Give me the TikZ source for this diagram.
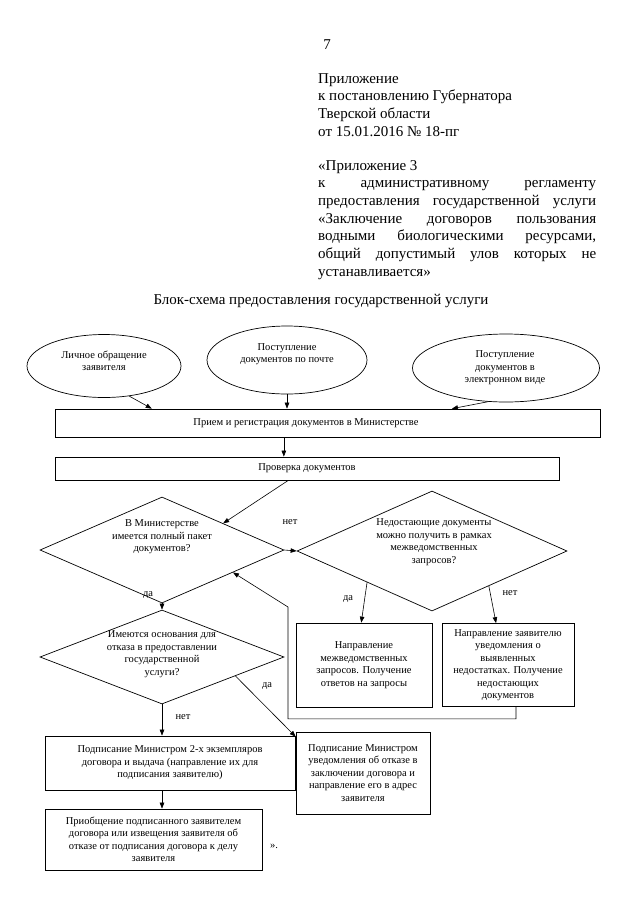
\documentclass[tikz,border=0pt]{standalone}
\usepackage{fontspec}
\setmainfont{Liberation Serif}
\usetikzlibrary{shapes.geometric,arrows.meta,calc}
\newcommand{\shapkafont}{\fontsize{15}{17.7}\selectfont}
\newcommand{\melkfont}{\fontsize{10.5}{12.5}\selectfont}
\tikzset{
  blok/.style={draw,line width=0.7pt,align=center,inner sep=2pt,font=\melkfont},
  oval/.style={draw,ellipse,line width=0.7pt,inner sep=0pt},
  romb/.style={draw,diamond,line width=0.7pt,inner sep=0pt},
  tekst/.style={align=center,font=\melkfont,inner sep=0pt},
  metka/.style={font=\melkfont,inner sep=1pt},
  strelka/.style={line width=0.6pt,-{Triangle[length=6pt,width=4.5pt]}},
  liniya/.style={line width=0.6pt}
}
\begin{document}
\begin{tikzpicture}[x=1pt,y=-1pt]
\useasboundingbox (0,0) rectangle (640,905);

% shapka
\node[font=\shapkafont,inner sep=0pt] (nomer) at (327,45) {7};
\node[anchor=north west,inner sep=0pt,align=left,font=\shapkafont] (prilozh) at (318,73)
  {Приложение\\к постановлению Губернатора\\Тверской области\\от 15.01.2016 № 18-пг};
\node[anchor=north west,inner sep=0pt,align=left,font=\shapkafont] (prilozh3) at (318,160)
  {«Приложение 3\\
   \makebox[278pt][s]{к административному регламенту}\\
   \makebox[278pt][s]{предоставления государственной услуги}\\
   \makebox[278pt][s]{«Заключение договоров пользования}\\
   \makebox[278pt][s]{водными биологическими ресурсами,}\\
   \makebox[278pt][s]{общий допустимый улов которых не}\\
   устанавливается»};
\node[font=\shapkafont,inner sep=0pt] (zagolovok) at (321,301)
  {Блок-схема предоставления государственной услуги};

% vkhod
\node[oval,minimum width=154pt,minimum height=63pt] (ell1) at (104,366) {};
\node[tekst] (ell1txt) at (104,361) {Личное обращение\\заявителя};
\node[oval,minimum width=160pt,minimum height=68pt] (ell2) at (287,360) {};
\node[tekst] (ell2txt) at (287,354) {Поступление\\документов по почте};
\node[oval,minimum width=187pt,minimum height=68pt] (ell3) at (506,368) {};
\node[tekst] (ell3txt) at (505,368) {Поступление\\документов в\\электронном виде};

\node[blok,minimum width=545pt,minimum height=28pt] (box1) at (327.5,423) {};
\node[tekst] (box1txt) at (306,423) {Прием и регистрация документов в Министерстве};
\node[blok,minimum width=504pt,minimum height=23pt] (box2) at (307,468.5)
  {Проверка документов};

% rombi
\node[romb,minimum width=244pt,minimum height=106pt] (d1) at (162,550) {};
\node[tekst] (d1txt) at (162,537) {В Министерстве\\имеется полный пакет\\документов?};
\node[romb,minimum width=270pt,minimum height=120pt] (d2) at (432,551) {};
\node[tekst] (d2txt) at (434,542) {Недостающие документы\\можно получить в рамках\\межведомственных\\запросов?};
\node[romb,minimum width=244pt,minimum height=94pt] (d3) at (162,657) {};
\node[tekst] (d3txt) at (162,654) {Имеются основания для\\отказа в предоставлении\\государственной\\услуги?};

% bloki nizhe
\node[blok,minimum width=136pt,minimum height=84pt] (box3) at (364,665)
  {Направление\\межведомственных\\запросов. Получение\\ответов на запросы};
\node[blok,minimum width=132pt,minimum height=83pt] (box4) at (508,665)
  {Направление заявителю\\уведомления о\\выявленных\\недостатках. Получение\\недостающих\\документов};
\node[blok,minimum width=134pt,minimum height=82pt] (box5) at (363,773)
  {Подписание Министром\\уведомления об отказе в\\заключении договора и\\направление его в адрес\\заявителя};
\node[blok,minimum width=250pt,minimum height=54pt] (box6) at (170,763)
  {Подписание Министром 2-х экземпляров\\договора и выдача (направление их для\\подписания заявителю)};
\node[blok,minimum width=217pt,minimum height=61pt] (box7) at (153.5,839.5)
  {Приобщение подписанного заявителем\\договора или извещения заявителя об\\отказе от подписания договора к делу\\заявителя};
\node[font=\melkfont,inner sep=0pt] (konec) at (274,846) {».};

% strelki
\coordinate (s1) at ($(box1.south west)!0.42!(box1.south east)$);
\coordinate (s2) at ($(box2.south west)!0.463!(box2.south east)$);
\draw[strelka] (ell1.-50) -- ($(box1.north west)!0.178!(box1.north east)$);
\draw[strelka] (ell2.south) -- (ell2.south |- box1.north);
\draw[strelka] (ell3.-118) -- ($(box1.north west)!0.728!(box1.north east)$);
\draw[strelka] (s1) -- (s1 |- box2.north);
\draw[strelka] (s2) -- (d1.north east);
\draw[strelka] (d1.east) -- (d2.west);
\node[metka] (net1) at (290,522) {нет};
\draw[strelka] (d1.south) -- (d3.north);
\node[metka] (da1) at (148,595) {да};
\draw[strelka] ($(d2.west)!0.52!(d2.south)$) -- ($(box3.north west)!0.48!(box3.north east)$);
\node[metka] (da2) at (348,599) {да};
\draw[strelka] ($(d2.south)!0.42!(d2.east)$) -- ($(box4.north west)!0.41!(box4.north east)$);
\node[metka] (net2) at (510,593) {нет};
\draw[liniya,->,>={Triangle[length=6pt,width=4.5pt]}] ($(box4.south west)!0.56!(box4.south east)$) -- ++(0,12) -| (288,607) -- ($(d1.east)!0.42!(d1.south)$);
\draw[strelka] ($(d3.east)!0.4!(d3.south)$) -- ($(box5.north west)+(0,5)$);
\node[metka] (da3) at (267,686) {да};
\draw[strelka] (d3.south) -- (box6.north -| d3.south);
\node[metka] (net3) at (183,717) {нет};
\draw[strelka] (box6.south -| d3.south) -- (box7.north -| d3.south);
\end{tikzpicture}
\end{document}
